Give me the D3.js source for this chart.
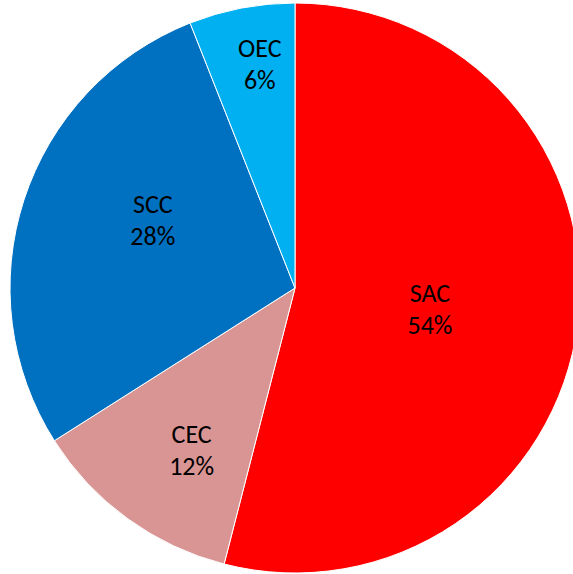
<!DOCTYPE html>
<html>
<head>
<meta charset="utf-8">
<script src="https://cdn.jsdelivr.net/npm/d3@7"></script>
<style>
  html, body { margin: 0; padding: 0; background: #fff; overflow: hidden; }
  svg { display: block; }
</style>
</head>
<body>
<div id="chart"></div>
<script>
// data
const categories = ['SAC', 'CEC', 'SCC', 'OEC'];
const shares = [54, 12, 28, 6];
const colors = ['#FF0000', '#D99594', '#0070C0', '#00B0F0'];
// label placement (Excel best-fit look): distance as fraction of radius, angle nudge in degrees
const labelRadius = [0.485, 0.70, 0.54, 0.765];
const labelShift = [5.3, -4.8, 4.5, 1.5];

const width = 573, height = 574;
const cx = 295, cy = 288, radius = 285;

const svg = d3.select('#chart').append('svg')
  .attr('width', width)
  .attr('height', height);

const g = svg.append('g').attr('transform', `translate(${cx},${cy})`);

const pie = d3.pie().sort(null).value(d => d);
const arcs = pie(shares);

const arc = d3.arc().innerRadius(0).outerRadius(radius);

g.selectAll('path')
  .data(arcs)
  .enter().append('path')
  .attr('d', arc)
  .attr('fill', (d, i) => colors[i])
  .attr('stroke', '#fff')
  .attr('stroke-width', 1);

const labels = g.selectAll('text.label')
  .data(arcs)
  .enter().append('text')
  .attr('class', 'label')
  .attr('transform', (d, i) => {
    const r = radius * labelRadius[i];
    const a = (d.startAngle + d.endAngle) / 2 + labelShift[i] * Math.PI / 180;
    return `translate(${r * Math.sin(a)},${-r * Math.cos(a)})`;
  })
  .attr('text-anchor', 'middle')
  .attr('font-family', 'Carlito, Lato, "Open Sans", sans-serif')
  .attr('font-size', 26)
  .attr('fill', '#000');

labels.append('tspan')
  .attr('x', 0)
  .attr('dy', -16)
  .text((d, i) => categories[i]);

labels.append('tspan')
  .attr('x', 0)
  .attr('dy', 32)
  .text(d => d.data + '%');
</script>
</body>
</html>
